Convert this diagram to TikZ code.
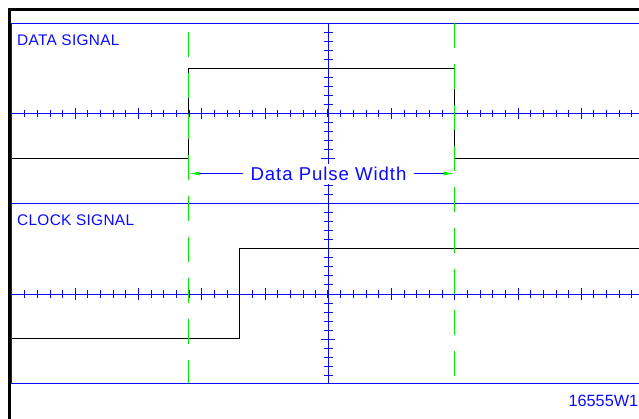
\documentclass[tikz,border=0pt]{standalone}
\usepackage{fontspec}
\setmainfont{Liberation Sans}
\usetikzlibrary{arrows.meta}
\definecolor{cadblue}{RGB}{10,10,255}
\definecolor{cadgreen}{RGB}{0,235,0}
\begin{document}
\begin{tikzpicture}[x=1pt,y=-1pt,
  grid/.style={cadblue,line width=1pt},
  trace/.style={black,line width=1pt},
  marker/.style={cadgreen,line width=1pt,dash pattern=on 25pt off 16pt},
  lbl/.style={text=cadblue,inner sep=0pt,font=\addfontfeatures{LetterSpace=2}\fontsize{15.4}{18}\selectfont},
  dimlbl/.style={text=cadblue,fill=white,inner xsep=7pt,inner ysep=3pt,
    font=\addfontfeatures{LetterSpace=5}\fontsize{18.6}{20}\selectfont},
  dimline/.style={grid,-{Latex[length=11pt,width=4pt,color=cadgreen,fill=cadgreen]}}]
\path[use as bounding box] (0,0) rectangle (639,419);
% outer frame
\draw[black,line width=3pt] (9.5,419) -- (9.5,9.5) -- (639,9.5);
% panels
\draw[grid] (639,23.3) -- (11.7,23.3) -- (11.7,383.3) -- (639,383.3);
\draw[grid] (11.7,203.3) -- (639,203.3);
% vertical axis
\draw[grid] (328.3,23.3) -- (328.3,383.3);
\draw[grid] (321.3,203.3) -- (335.3,203.3);
\foreach \cy in {113.3,294}{
  \draw[grid] (11.7,\cy) -- (639,\cy);
  \draw[cadblue,line width=2pt] (328.3,\cy-4) -- (328.3,\cy+4);
  \foreach \k in {-24,...,-1,1,2,...,24}{
    \pgfmathsetmacro\tx{328.3+\k*12.65}
    \pgfmathtruncatemacro\m{mod(abs(\k),5)}
    \ifnum\m=0
      \draw[grid] (\tx,\cy-5.5) -- (\tx,\cy+5.5);
    \else
      \draw[grid] (\tx,\cy-3.5) -- (\tx,\cy+3.5);
    \fi
  }
  \foreach \k in {-9,...,-1,1,2,...,9}{
    \pgfmathsetmacro\ty{\cy+\k*9}
    \pgfmathtruncatemacro\m{mod(abs(\k),5)}
    \ifnum\m=0
      \draw[grid] (321.3,\ty) -- (335.3,\ty);
    \else
      \draw[grid] (323.6,\ty) -- (333,\ty);
    \fi
  }
}
% labels
\node[lbl,anchor=base west] (dsig) at (17,45.7) {DATA SIGNAL};
\node[lbl,anchor=base west] (csig) at (17,226) {CLOCK SIGNAL};
\node[lbl,anchor=base east,font=\fontsize{16.3}{18}\selectfont] (fig) at (638.5,406.7) {16555W1};
% traces
\draw[trace] (11.7,158.3) -- (188.7,158.3) -- (188.7,68.3) -- (454.7,68.3) -- (454.7,158.3) -- (639,158.3);
\draw[trace] (11.7,338.3) -- (239.5,338.3) -- (239.5,248.3) -- (639,248.3);
% dimension
\node[dimlbl,anchor=base] (dpw) at (328.5,180.7) {Data Pulse Width};
\coordinate (dl) at (188.7,173.5);
\coordinate (dr) at (454.7,173.5);
\draw[dimline] (dpw.west |- dl) -- (dl);
\draw[dimline] (dpw.east |- dr) -- (dr);
% markers
\draw[marker] (188.7,31.7) -- (188.7,383.3);
\draw[marker] (454.7,23.3) -- (454.7,383.3);
\end{tikzpicture}
\end{document}
